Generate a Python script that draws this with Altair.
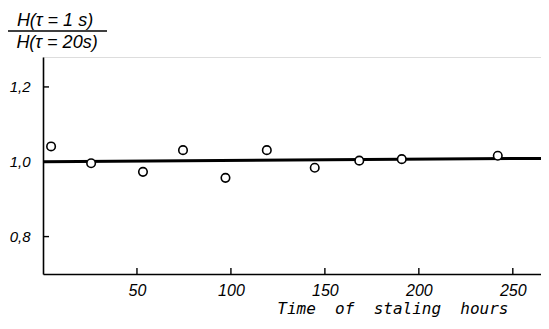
import altair as alt
import pandas as pd

# data
hours = [4.3, 25.6, 53.2, 74.5, 97.1, 119.1, 144.6, 168.3, 190.9, 242.0]
ratio = [1.041, 0.996, 0.973, 1.031, 0.957, 1.031, 0.984, 1.003, 1.007, 1.016]
fit_x = [0, 265]
fit_y = [1.0, 1.009]
y_ticks = [0.8, 1.0, 1.2]
x_ticks = [50, 100, 150, 200, 250]

FONT = "Liberation Sans"
XMAX = 265
YMIN, YMAX = 0.7, 1.28
NB = "\u00a0"

pts = pd.DataFrame({"h": hours, "r": ratio})
fit = pd.DataFrame({"h": fit_x, "r": fit_y})
yt = pd.DataFrame({"tv": y_ticks, "tp": [1.6] * 3})
xt = pd.DataFrame({"tv": x_ticks, "tp": [YMIN + 0.008] * 5})

xs = alt.Scale(domain=[0, XMAX], nice=False, zero=False)
ys = alt.Scale(domain=[YMIN, YMAX], nice=False, zero=False)

xaxis = alt.Axis(values=x_ticks, ticks=False, grid=False, labelPadding=8,
                 labelFontSize=16, labelFont=FONT, labelFontStyle="italic",
                 labelColor="black", domainColor="black", domainWidth=1.6,
                 title=f"Time{NB}{NB}of{NB}{NB}staling{NB}{NB}hours",
                 titleFont="DejaVu Sans Mono",
                 titleFontStyle="italic", titleFontWeight="normal", titleFontSize=16,
                 titleColor="black", titleAlign="right", titleAnchor="start",
                 titleX=465, titleY=39, titleBaseline="alphabetic")
yaxis = alt.Axis(values=y_ticks, ticks=False, grid=False, labelPadding=13,
                 labelFontSize=15, labelFont=FONT, labelFontStyle="italic",
                 labelColor="black", domainColor="black", domainWidth=1.6,
                 labelExpr="replace(format(datum.value, '.1f'), '.', ',')",
                 title=None)

line = alt.Chart(fit).mark_line(color="black", strokeWidth=3).encode(
    x=alt.X("h:Q", scale=xs, axis=xaxis),
    y=alt.Y("r:Q", scale=ys, axis=yaxis),
)

points = alt.Chart(pts).mark_point(shape="circle", size=72, filled=True,
                                   fill="white", stroke="black",
                                   strokeWidth=1.6, opacity=1).encode(
    x=alt.X("h:Q", scale=xs),
    y=alt.Y("r:Q", scale=ys),
)

ytick_marks = alt.Chart(yt).mark_tick(color="black", orient="horizontal",
                                      size=6, thickness=1.4, opacity=1).encode(
    x=alt.X("tp:Q", scale=xs), y=alt.Y("tv:Q", scale=ys)
)
xtick_marks = alt.Chart(xt).mark_tick(color="black", orient="vertical",
                                      size=6, thickness=1.4, opacity=1).encode(
    x=alt.X("tv:Q", scale=xs), y=alt.Y("tp:Q", scale=ys)
)

one = pd.DataFrame({"a": [0]})
num = alt.Chart(one).mark_text(text="H(τ = 1 s)", font=FONT, fontStyle="italic",
                               fontSize=18, color="black", align="center",
                               baseline="alphabetic").encode(
    x=alt.value(12), y=alt.value(-31))
den = alt.Chart(one).mark_text(text="H(τ = 20s)", font=FONT, fontStyle="italic",
                               fontSize=18, color="black", align="center",
                               baseline="alphabetic").encode(
    x=alt.value(14), y=alt.value(-9))
bar = alt.Chart(one).mark_rule(color="black", strokeWidth=1.5).encode(
    x=alt.value(-39), x2=alt.value(64), y=alt.value(-26))

chart = alt.layer(line, ytick_marks, xtick_marks, points, num, den, bar).properties(
    width=498, height=217,
    autosize=alt.AutoSizeParams(type="none"),
    padding={"left": 35, "top": 49, "right": 0, "bottom": 44},
).configure_view(stroke=None).configure(background="white")

chart.save("out.html", embed_options={"renderer": "svg", "actions": False})
